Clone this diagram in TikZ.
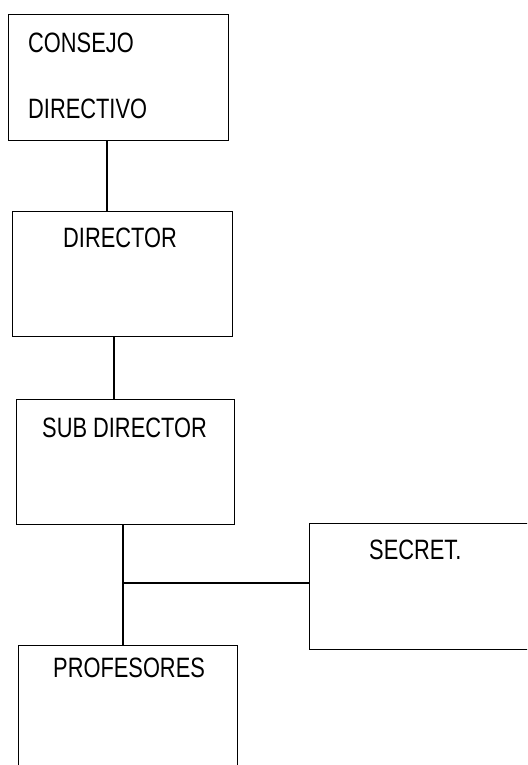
\documentclass[tikz,border=0pt]{standalone}
\usepackage{fontspec}
\setmainfont[FakeStretch=0.78]{Liberation Sans}
\begin{document}
\begin{tikzpicture}[x=1pt,y=-1pt,
  orgbox/.style={draw, line width=1.4pt, rectangle, anchor=north west, inner sep=0pt},
  lbl/.style={anchor=base west, inner sep=0pt, font=\fontsize{28}{30}\selectfont},
  conn/.style={line width=1.4pt}]
\useasboundingbox (0,0) rectangle (527,765);
\clip (0,0) rectangle (527,765);
% boxes
\node[orgbox, minimum width=220pt, minimum height=126pt] (b1) at (8,14) {};
\node[orgbox, minimum width=220pt, minimum height=125pt] (b2) at (12,211) {};
\node[orgbox, minimum width=218pt, minimum height=125pt] (b3) at (16,399) {};
\node[orgbox, minimum width=240pt, minimum height=126pt] (b4) at (309,523) {};
\node[orgbox, minimum width=219pt, minimum height=140pt] (b5) at (18,645) {};
% texts
\node[lbl] (t1) at (28,53) {CONSEJO};
\node[lbl] (t1b) at (28,118) {DIRECTIVO};
\node[lbl] (t2) at (63,247) {DIRECTOR};
\node[lbl] (t3) at (42,437) {SUB DIRECTOR};
\node[lbl] (t4) at (369,559) {SECRET.};
\node[lbl] (t5) at (53,677) {PROFESORES};
% connector helpers
\coordinate (x1) at (107,0);
\coordinate (x2) at (114,0);
\coordinate (x3) at (123,0);
\coordinate (j) at (123,583);
% connectors
\draw[conn] (x1 |- b1.south) -- (x1 |- b2.north);
\draw[conn] (x2 |- b2.south) -- (x2 |- b3.north);
\draw[conn] (x3 |- b3.south) -- (x3 |- b5.north);
\draw[conn] (j) -- (j -| b4.west);
\end{tikzpicture}
\end{document}
